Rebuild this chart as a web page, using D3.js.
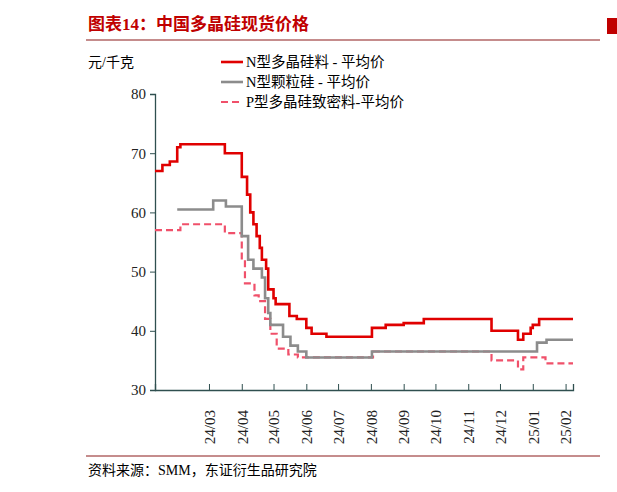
<!DOCTYPE html><html><head><meta charset="utf-8"><script src="https://cdn.jsdelivr.net/npm/d3@7"></script>
<style>body{margin:0;background:#fff}text{font-family:"Liberation Serif","Noto Sans CJK SC",serif}</style></head><body><svg id="c" width="617" height="492"></svg><script>
const seriesNames=["N型多晶硅料 - 平均价","N型颗粒硅 - 平均价","P型多晶硅致密料-平均价"];
const redData=[["2024-01-10",67],["2024-01-17",68],["2024-01-24",68.6],["2024-01-31",71],["2024-02-03",71.5],["2024-03-16",70],["2024-04-01",66],["2024-04-06",63],["2024-04-09",60],["2024-04-12",58],["2024-04-15",56],["2024-04-18",54],["2024-04-20",52],["2024-04-24",50.5],["2024-04-26",47],["2024-05-01",45.5],["2024-05-03",44.5],["2024-05-16",42.5],["2024-05-23",42],["2024-06-01",40.5],["2024-06-06",39.5],["2024-06-20",39],["2024-08-02",40.5],["2024-08-15",41],["2024-09-01",41.3],["2024-09-20",42],["2024-11-23",40],["2024-12-18",38.5],["2024-12-23",39.5],["2024-12-30",40.5],["2025-01-01",41],["2025-01-07",42],["2025-02-08",42]];
const grayData=[["2024-01-31",60.5],["2024-03-05",62],["2024-03-17",61],["2024-04-01",56],["2024-04-07",52],["2024-04-12",50.5],["2024-04-20",49],["2024-04-23",45.5],["2024-04-26",43],["2024-04-28",41],["2024-05-10",39],["2024-05-17",37.5],["2024-05-24",36.5],["2024-06-01",35.5],["2024-08-02",36.5],["2025-01-05",38],["2025-01-14",38.5],["2025-02-08",38.5]];
const pinkData=[["2024-01-10",57],["2024-02-03",58],["2024-03-16",56.5],["2024-04-01",52],["2024-04-04",48],["2024-04-13",46],["2024-04-17",45],["2024-04-23",42],["2024-04-28",39.5],["2024-05-04",37],["2024-05-15",36],["2024-05-24",35.5],["2024-08-03",36.5],["2024-11-23",35],["2024-12-18",33.5],["2024-12-23",35.5],["2025-01-13",34.5],["2025-02-08",34.5]];
const yTicks=[30,40,50,60,70,80];
const xTickLabels=["24/03","24/04","24/05","24/06","24/07","24/08","24/09","24/10","24/11","24/12","25/01","25/02"];
const p=d3.timeParse("%Y-%m-%d");
const svg=d3.select("#c");
const x=d3.scaleTime().domain([p("2024-01-10"),p("2025-02-08")]).range([155,573]);
const y=d3.scaleLinear().domain([30,80]).range([390,94]);
// header
svg.append("text").attr("x",88).attr("y",30).attr("fill","#c00000").attr("font-weight","bold").attr("font-size",17).attr("font-family","Noto Sans CJK SC").text("图表14：中国多晶硅现货价格");
svg.append("line").attr("x1",86).attr("x2",600).attr("y1",40).attr("y2",40).attr("stroke","#8b1a1a").attr("stroke-width",1.2);
svg.append("rect").attr("x",607).attr("y",18).attr("width",10).attr("height",16).attr("fill","#c00000");
svg.append("line").attr("x1",86).attr("x2",600).attr("y1",456).attr("y2",456).attr("stroke","#8b1a1a").attr("stroke-width",1);
svg.append("text").attr("x",88).attr("y",475).attr("font-size",14).text("资料来源：SMM，东证衍生品研究院");
svg.append("text").attr("x",88).attr("y",67).attr("font-size",14).text("元/千克");
// axes
const ya=svg.append("g").attr("transform","translate(155,0)").call(d3.axisLeft(y).tickValues(yTicks).tickSize(5).tickPadding(4));
const xTickDates=xTickLabels.map(s=>p("20"+s.slice(0,2)+"-"+s.slice(3)+"-01"));
const xa=svg.append("g").attr("transform","translate(0,390)").call(d3.axisBottom(x).tickValues(xTickDates).tickSize(-6).tickFormat((d,i)=>xTickLabels[i]).tickPadding(10));
[ya,xa].forEach(g=>{g.select(".domain").attr("stroke","#2f4f4f").attr("stroke-width",1.3);g.selectAll("line").attr("stroke","#2f4f4f");g.selectAll("text").attr("font-size",15).attr("fill","#222").attr("font-family","Liberation Serif");});
xa.selectAll("text").attr("transform","rotate(-90)").attr("text-anchor","end").attr("dx","-8").attr("dy","0.35em").attr("x",0).attr("y",0).attr("transform",function(){return "translate(0,12) rotate(-90)";});
// lines
const line=d3.line().x(d=>x(p(d[0]))).y(d=>y(d[1])).curve(d3.curveStepAfter);
const specs=[[redData,"#e00000",null,2.6],[grayData,"#8c8c8c",null,2.6],[pinkData,"#f0506a","7,4",2.2]];
specs.slice().reverse().forEach(([d,c,da,w])=>svg.append("path").datum(d).attr("d",line).attr("fill","none").attr("stroke",c).attr("stroke-width",w).attr("stroke-dasharray",da));
// legend
specs.forEach(([d,c,da,w],i)=>{const ly=62+i*20;
svg.append("line").attr("x1",221).attr("x2",243).attr("y1",ly).attr("y2",ly).attr("stroke",c).attr("stroke-width",w).attr("stroke-dasharray",da);
svg.append("text").attr("x",246).attr("y",ly+5).attr("font-size",14.5).text(seriesNames[i]);});
</script></body></html>
